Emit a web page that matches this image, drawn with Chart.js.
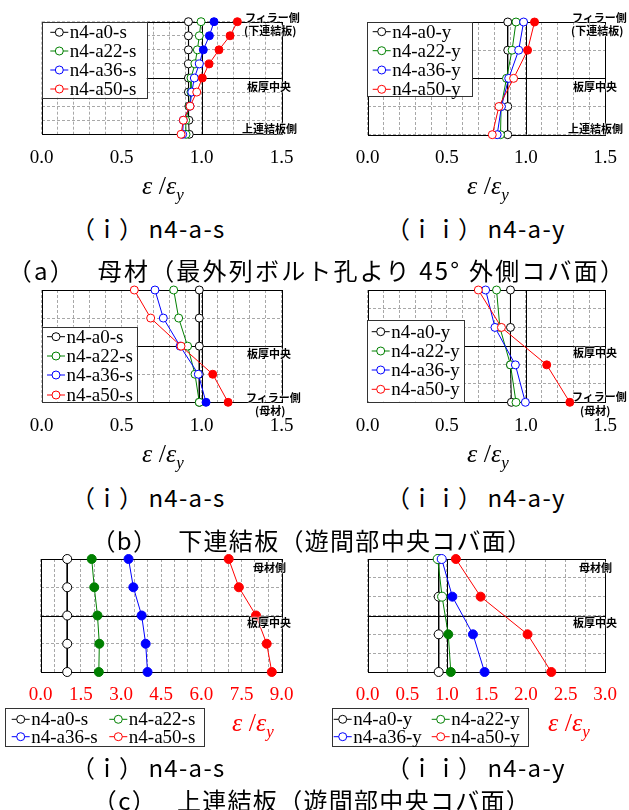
<!DOCTYPE html>
<html><head><meta charset="utf-8">
<script src="https://cdn.jsdelivr.net/npm/chart.js@4/dist/chart.umd.min.js"></script>
<style>
html,body{margin:0;padding:0;background:#fff;}
body{width:629px;height:810px;position:relative;overflow:hidden;}
canvas{position:absolute;}
.lab{position:absolute;font:bold 11px "Noto Sans CJK JP";line-height:1;transform:translateY(-50%);white-space:nowrap;color:#000;
 text-shadow:0 0 2px #fff,0 0 2px #fff,0 0 1px #fff;z-index:5;}
.ax{position:absolute;font:26px "Liberation Serif";line-height:1;transform:translate(-50%,-50%);white-space:nowrap;z-index:5;}
.ax i{font-style:italic;}
.ax sub{font-size:17px;font-style:italic;vertical-align:-6px;}
.cap{position:absolute;font:24px "Noto Sans CJK JP";line-height:1;transform:translate(-50%,-50%);white-space:nowrap;z-index:5;letter-spacing:1.3px;}
.sub{position:absolute;font:24px "Noto Sans CJK JP";line-height:1;transform:translateY(-50%);white-space:nowrap;z-index:5;}
.sub span{letter-spacing:1.3px;}
</style></head>
<body>
<canvas id="cA1"></canvas><canvas id="cA2"></canvas>
<canvas id="cB1"></canvas><canvas id="cB2"></canvas>
<canvas id="cC1"></canvas><canvas id="cC2"></canvas>

<div class="lab" style="left:245px;top:16.7px">フィラー側</div>
<div class="lab" style="left:244px;top:30px">(下連結板)</div>
<div class="lab" style="left:247px;top:86px">板厚中央</div>
<div class="lab" style="left:242px;top:128px">上連結板側</div>
<div class="lab" style="left:572px;top:16.7px">フィラー側</div>
<div class="lab" style="left:571px;top:30px">(下連結板)</div>
<div class="lab" style="left:573px;top:86px">板厚中央</div>
<div class="lab" style="left:568px;top:128px">上連結板側</div>

<div class="lab" style="left:247px;top:353px">板厚中央</div>
<div class="lab" style="left:246px;top:396.7px">フィラー側</div>
<div class="lab" style="left:255px;top:410px">(母材)</div>
<div class="lab" style="left:573px;top:352px">板厚中央</div>
<div class="lab" style="left:572px;top:396px">フィラー側</div>
<div class="lab" style="left:580px;top:410px">(母材)</div>

<div class="lab" style="left:253px;top:567px">母材側</div>
<div class="lab" style="left:247px;top:622px">板厚中央</div>
<div class="lab" style="left:579px;top:567px">母材側</div>
<div class="lab" style="left:573px;top:622px">板厚中央</div>

<div class="ax" style="left:163px;top:188px"><i>ε</i> /<i>ε</i><sub>y</sub></div>
<div class="ax" style="left:488px;top:188px"><i>ε</i> /<i>ε</i><sub>y</sub></div>
<div class="ax" style="left:163px;top:456px"><i>ε</i> /<i>ε</i><sub>y</sub></div>
<div class="ax" style="left:488px;top:456px"><i>ε</i> /<i>ε</i><sub>y</sub></div>
<div class="ax" style="left:253px;top:725px;color:#ff0000"><i>ε</i> /<i>ε</i><sub>y</sub></div>
<div class="ax" style="left:569px;top:725px;color:#ff0000"><i>ε</i> /<i>ε</i><sub>y</sub></div>

<div class="sub" style="left:71px;top:228px">（ｉ） <span>n4-a-s</span></div>
<div class="sub" style="left:386px;top:228px">（ｉｉ） <span>n4-a-y</span></div>
<div class="cap" style="left:317px;top:270px;letter-spacing:2.2px">（a）　 母材（最外列ボルト孔より 45° 外側コバ面）</div>
<div class="sub" style="left:71px;top:497px">（ｉ） <span>n4-a-s</span></div>
<div class="sub" style="left:386px;top:497px">（ｉｉ） <span>n4-a-y</span></div>
<div class="cap" style="left:312px;top:540px">（b）　 下連結板（遊間部中央コバ面）</div>
<div class="sub" style="left:71px;top:767px">（ｉ） <span>n4-a-s</span></div>
<div class="sub" style="left:386px;top:767px">（ｉｉ） <span>n4-a-y</span></div>
<div class="cap" style="left:312px;top:800px">（c）　 上連結板（遊間部中央コバ面）</div>

<script>
// ---------- data (top of each panel to bottom) ----------
const labelsS = ['n4-a0-s', 'n4-a22-s', 'n4-a36-s', 'n4-a50-s'];
const labelsY = ['n4-a0-y', 'n4-a22-y', 'n4-a36-y', 'n4-a50-y'];

const tickLabels15 = ['0.0', '0.5', '1.0', '1.5'];
const tickLabels90 = ['0.0', '1.5', '3.0', '4.5', '6.0', '7.5', '9.0'];
const tickLabels30 = ['0.0', '0.5', '1.0', '1.5', '2.0', '2.5', '3.0'];

// (a)(i) 母材 n4-a-s
const levelsA1 = [8, 7, 6, 5, 4, 3, 2, 1, 0];
const a1_a0  = [0.917, 0.917, 0.917, 0.917, 0.917, 0.917, 0.92, 0.92, 0.922];
const a1_a22 = [0.996, 0.985, 0.973, 0.958, 0.933, 0.933, 0.923, 0.90, 0.902];
const a1_a36 = [1.077, 1.048, 1.01, 0.985, 0.954, 0.938, 0.927, 0.885, 0.881];
const a1_a50 = [1.223, 1.177, 1.108, 1.046, 1.004, 0.969, 0.927, 0.885, 0.871];

// (a)(ii) 母材 n4-a-y
const levelsA2 = [4, 3, 2, 1, 0];
const a2_a0  = [0.885, 0.885, 0.881, 0.885, 0.885];
const a2_a22 = [0.937, 0.912, 0.877, 0.843, 0.839];
const a2_a36 = [0.985, 0.954, 0.891, 0.845, 0.818];
const a2_a50 = [1.054, 1.01, 0.922, 0.829, 0.787];

// (b)(i) 下連結板 n4-a-s
const levelsB1 = [4, 3, 2, 1, 0];
const b1_a0  = [0.985, 0.985, 0.985, 0.985, 0.985];
const b1_a22 = [0.825, 0.856, 0.912, 0.958, 0.985];
const b1_a36 = [0.708, 0.76, 0.865, 0.979, 1.027];
const b1_a50 = [0.579, 0.681, 0.871, 1.069, 1.165];

// (b)(ii) 下連結板 n4-a-y
const levelsB2 = [6, 4, 2, 0];
const b2_a0  = [0.902, 0.902, 0.902, 0.908];
const b2_a22 = [0.814, 0.835, 0.902, 0.937];
const b2_a36 = [0.745, 0.804, 0.933, 0.996];
const b2_a50 = [0.699, 0.845, 1.131, 1.277];

// (c)(i) 上連結板 n4-a-s
const levelsC1 = [4, 3, 2, 1, 0];
const c1_a0  = [0.99, 0.99, 0.99, 0.99, 0.99];
const c1_a22 = [1.905, 2.0, 2.12, 2.19, 2.17];
const c1_a36 = [3.28, 3.46, 3.77, 3.92, 3.99];
const c1_a50 = [7.02, 7.4, 8.04, 8.44, 8.63];

// (c)(ii) 上連結板 n4-a-y
const levelsC2 = [6, 4, 2, 0];
const c2_a0  = [0.897, 0.897, 0.897, 0.897];
const c2_a22 = [0.884, 0.94, 1.018, 1.05];
const c2_a36 = [0.935, 1.07, 1.33, 1.477];
const c2_a50 = [1.114, 1.427, 2.02, 2.32];

// ---------- styling ----------
const COLORS = ['#000000', '#008000', '#0000ff', '#ff0000'];
const X_AXIS_H = 40;

const framePlugin = {
  id: 'frame',
  beforeDatasetsDraw(chart, args, o) {
    const ctx = chart.ctx, a = chart.chartArea, x = chart.scales.x, y = chart.scales.y;
    ctx.save();
    ctx.strokeStyle = '#000'; ctx.lineWidth = 1; ctx.setLineDash([]);
    const px = Math.round(x.getPixelForValue(o.vline)) + 0.5;
    const py = Math.round(y.getPixelForValue(o.hline)) + 0.5;
    ctx.beginPath();
    ctx.moveTo(px, a.top); ctx.lineTo(px, a.bottom);
    ctx.moveTo(a.left, py); ctx.lineTo(a.right, py);
    ctx.stroke();
    const l = Math.round(a.left) + 0.5, t = Math.round(a.top) + 0.5;
    ctx.strokeRect(l, t, Math.round(a.right) - Math.round(a.left), Math.round(a.bottom) - Math.round(a.top));
    ctx.restore();
  }
};

const legendPlugin = {
  id: 'boxLegend',
  afterDatasetsDraw(chart, args, o) {
    const ctx = chart.ctx;
    const ox = o.origin[0], oy = o.origin[1];
    const b = o.box;
    ctx.save();
    ctx.setLineDash([]);
    ctx.fillStyle = '#fff';
    ctx.fillRect(b[0] - ox, b[1] - oy, b[2], b[3]);
    ctx.strokeStyle = '#333'; ctx.lineWidth = 1;
    ctx.strokeRect(Math.round(b[0] - ox) + 0.5, Math.round(b[1] - oy) + 0.5, Math.round(b[2]), Math.round(b[3]));
    chart.data.datasets.forEach((ds, k) => {
      const X = o.items[k][0] - ox, Y = o.items[k][1] - oy;
      ctx.strokeStyle = ds.borderColor; ctx.lineWidth = 1;
      ctx.beginPath(); ctx.moveTo(X - 9, Y); ctx.lineTo(X + 9, Y); ctx.stroke();
      ctx.beginPath(); ctx.arc(X, Y, 4, 0, Math.PI * 2);
      ctx.fillStyle = '#fff'; ctx.fill(); ctx.stroke();
      ctx.fillStyle = '#000';
      ctx.font = '19px "Liberation Serif"';
      ctx.textBaseline = 'middle'; ctx.textAlign = 'left';
      ctx.fillText(ds.label, X + 10.5, Y + 1);
    });
    ctx.restore();
  }
};

function buildChart(id, p) {
  const c = document.getElementById(id);
  const [cL, cT, cW, cH] = p.canvas;
  c.style.left = cL + 'px'; c.style.top = cT + 'px';
  c.width = cW; c.height = cH;
  c.style.width = cW + 'px'; c.style.height = cH + 'px';
  const datasets = p.series.map((vals, k) => ({
    label: p.labels[k],
    data: vals.map((v, i) => ({ x: v, y: p.levels[i] })),
    showLine: true,
    borderColor: COLORS[k], backgroundColor: COLORS[k],
    borderWidth: 1,
    pointRadius: p.r, pointHoverRadius: p.r, pointBorderWidth: 1,
    pointBorderColor: COLORS[k],
    pointBackgroundColor: vals.map(v => v > 1 ? COLORS[k] : '#ffffff'),
    tension: 0, order: 10 - k, clip: false
  }));
  const [pL, pR, pT, pB] = p.plot;
  new Chart(c, {
    type: 'scatter',
    data: { datasets },
    options: {
      responsive: false, animation: false, devicePixelRatio: 1, events: [],
      layout: { padding: { left: pL - cL, right: cL + cW - pR, top: pT - cT, bottom: cT + cH - pB - X_AXIS_H } },
      plugins: {
        legend: { display: false }, tooltip: { enabled: false },
        frame: { vline: 1, hline: p.mid },
        boxLegend: { origin: [cL, cT], box: p.legBox, items: p.legItems }
      },
      scales: {
        x: {
          type: 'linear', min: 0, max: p.xMax,
          afterFit: s => { s.height = X_AXIS_H; },
          ticks: {
            stepSize: p.grid, autoSkip: false, maxRotation: 0, minRotation: 0, padding: 12,
            color: p.tickColor, font: { family: 'Liberation Serif', size: 19 },
            callback: v => { const q = v / p.labelStep; const r = Math.round(q); return Math.abs(q - r) < 1e-6 ? p.tickLabels[r] : ''; }
          },
          grid: { color: '#a8a8a8', lineWidth: 1, drawTicks: false },
          border: { display: false, dash: [3, 2] }
        },
        y: {
          type: 'linear', min: 0, max: p.yMax,
          afterFit: s => { s.width = 0; },
          ticks: { display: false, stepSize: 1 },
          grid: { color: '#a8a8a8', lineWidth: 1, drawTicks: false },
          border: { display: false, dash: [3, 2] }
        }
      }
    },
    plugins: [framePlugin, legendPlugin]
  });
}

buildChart('cA1', {
  canvas: [0, 0, 315, 180], plot: [41.7, 281.7, 21.7, 134.3],
  xMax: 1.5, grid: 0.1, labelStep: 0.5, tickLabels: tickLabels15, tickColor: '#000',
  yMax: 8, mid: 4, levels: levelsA1, r: 4,
  series: [a1_a0, a1_a22, a1_a36, a1_a50], labels: labelsS,
  legBox: [41.7, 21.7, 105, 76], legItems: [[59.3, 32.3], [59.3, 51], [59.3, 70], [59.3, 89]]
});
buildChart('cA2', {
  canvas: [315, 0, 314, 180], plot: [367.7, 607.3, 22, 134.7],
  xMax: 1.5, grid: 0.1, labelStep: 0.5, tickLabels: tickLabels15, tickColor: '#000',
  yMax: 4, mid: 2, levels: levelsA2, r: 4,
  series: [a2_a0, a2_a22, a2_a36, a2_a50], labels: labelsY,
  legBox: [367, 22.3, 105.3, 74.4], legItems: [[381.7, 31.7], [381.7, 50.7], [381.7, 70], [381.7, 89.3]]
});
buildChart('cB1', {
  canvas: [0, 275, 315, 175], plot: [41.7, 281.7, 290, 402.3],
  xMax: 1.5, grid: 0.1, labelStep: 0.5, tickLabels: tickLabels15, tickColor: '#000',
  yMax: 4, mid: 2, levels: levelsB1, r: 4,
  series: [b1_a0, b1_a22, b1_a36, b1_a50], labels: labelsS,
  legBox: [41.7, 326.7, 95, 75], legItems: [[56, 336.7], [56, 356], [56, 375], [56, 395]]
});
buildChart('cB2', {
  canvas: [315, 275, 314, 175], plot: [367.7, 607.3, 290, 402.3],
  xMax: 1.5, grid: 0.1, labelStep: 0.5, tickLabels: tickLabels15, tickColor: '#000',
  yMax: 6, mid: 3, levels: levelsB2, r: 4,
  series: [b2_a0, b2_a22, b2_a36, b2_a50], labels: labelsY,
  legBox: [366.7, 320, 97.3, 81.7], legItems: [[380.7, 331.7], [380.7, 351], [380.7, 370], [380.7, 389.3]]
});
buildChart('cC1', {
  canvas: [0, 545, 315, 210], plot: [40.7, 281.7, 559, 672],
  xMax: 9, grid: 0.5, labelStep: 1.5, tickLabels: tickLabels90, tickColor: '#ff0000',
  yMax: 4, mid: 2, levels: levelsC1, r: 4.5,
  series: [c1_a0, c1_a22, c1_a36, c1_a50], labels: labelsS,
  legBox: [5, 708.3, 199, 37.7], legItems: [[20.7, 719.3], [118.3, 719.3], [20.7, 736.7], [118.3, 736.7]]
});
buildChart('cC2', {
  canvas: [315, 545, 314, 210], plot: [367.7, 607.3, 559, 672],
  xMax: 3, grid: 0.25, labelStep: 0.5, tickLabels: tickLabels30, tickColor: '#ff0000',
  yMax: 6, mid: 3, levels: levelsC2, r: 4.5,
  series: [c2_a0, c2_a22, c2_a36, c2_a50], labels: labelsY,
  legBox: [331.7, 708.3, 195.6, 37.7], legItems: [[342.7, 719.3], [440.7, 719.3], [342.7, 736.7], [440.7, 736.7]]
});
</script>
</body></html>
